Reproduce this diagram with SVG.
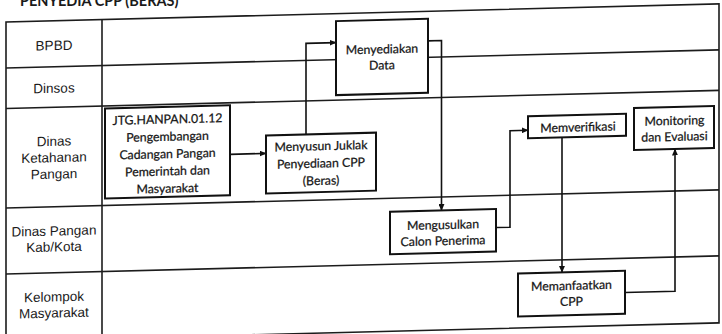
<svg xmlns="http://www.w3.org/2000/svg" width="722" height="334" viewBox="0 0 722 334">
<defs>
<style>
.grid{fill:none;stroke:#1c1c1c;stroke-width:1.6}
.box{fill:#fff;stroke:#111;stroke-width:2}
.lbl{font-family:"Liberation Sans",Arial,sans-serif;font-size:13.5px;fill:#1a1a1a;text-anchor:middle}
.bt{font-family:Lato,"Noto Sans",sans-serif;font-size:12.3px;fill:#161616;stroke:#161616;stroke-width:0.25;text-anchor:middle}
.con{fill:none;stroke:#111;stroke-width:1.6}
.title{font-family:Lato,"Noto Sans",sans-serif;font-size:14.5px;font-weight:bold;fill:#1a1a1a}
</style>
<marker id="ah" markerWidth="7" markerHeight="6" refX="6.5" refY="3" orient="auto" markerUnits="userSpaceOnUse">
<path d="M0,0 L7,3 L0,6 Z" fill="#111"/>
</marker>
</defs>
<rect width="722" height="334" fill="#fff"/>
<text class="title" x="20" y="5.5">PENYEDIA CPP (BERAS)</text>
<g transform="matrix(1 -0.0255 0 1 0 9.2)">
<g id="table">
<rect class="grid" x="6" y="13" width="713" height="319"/>
<line class="grid" x1="102" y1="13" x2="102" y2="332"/>
<line class="grid" x1="6" y1="59" x2="719" y2="59"/>
<line class="grid" x1="6" y1="99.5" x2="719" y2="99.5"/>
<line class="grid" x1="6" y1="199" x2="719" y2="199"/>
<line class="grid" x1="6" y1="265" x2="719" y2="265"/>
<text class="lbl" x="54" y="42.3">BPBD</text>
<text class="lbl" x="54" y="85">Dinsos</text>
<text class="lbl" x="54" y="138">Dinas</text>
<text class="lbl" x="54" y="154.3">Ketahanan</text>
<text class="lbl" x="54" y="170.8">Pangan</text>
<text class="lbl" x="54" y="227.7">Dinas Pangan</text>
<text class="lbl" x="54" y="243.7">Kab/Kota</text>
<text class="lbl" x="54" y="293.7">Kelompok</text>
<text class="lbl" x="54" y="309.7">Masyarakat</text>
</g>
<g id="connectors">
<path class="con" d="M230,151 H266" marker-end="url(#ah)"/>
<path class="con" d="M306,133 V42 H336" marker-end="url(#ah)"/>
<path class="con" d="M428,42.6 H441.5 V212.5" marker-end="url(#ah)"/>
<path class="con" d="M496,231 H510 V134.5 H528" marker-end="url(#ah)"/>
<path class="con" d="M562,142.5 V277.5" marker-end="url(#ah)"/>
<path class="con" d="M625,299.3 H675 V157" marker-end="url(#ah)"/>
</g>
<g id="jtg">
<rect class="box" x="105" y="102" width="125" height="90"/>
<text class="bt" x="167.5" y="118.6">JTG.HANPAN.01.12</text>
<text class="bt" x="167.5" y="135.9">Pengembangan</text>
<text class="bt" x="167.5" y="153.2">Cadangan Pangan</text>
<text class="bt" x="167.5" y="170.5">Pemerintah dan</text>
<text class="bt" x="167.5" y="187.8">Masyarakat</text>
</g>
<g id="menyusun">
<rect class="box" x="266" y="133" width="110" height="58"/>
<text class="bt" x="321" y="149.2">Menyusun Juklak</text>
<text class="bt" x="321" y="166.5">Penyediaan CPP</text>
<text class="bt" x="321" y="183.9">(Beras)</text>
</g>
<g id="menyediakan">
<rect class="box" x="336" y="20.5" width="92" height="74"/>
<text class="bt" x="382" y="54">Menyediakan</text>
<text class="bt" x="382" y="70">Data</text>
</g>
<g id="mengusulkan">
<rect class="box" x="390" y="212.5" width="106" height="42.5"/>
<text class="bt" x="443" y="231.2">Mengusulkan</text>
<text class="bt" x="443" y="247.2">Calon Penerima</text>
</g>
<g id="memverifikasi">
<rect class="box" x="528" y="120.5" width="98" height="22"/>
<text class="bt" x="578" y="137">Memverifikasi</text>
</g>
<g id="memanfaatkan">
<rect class="box" x="518" y="277.5" width="107" height="43"/>
<text class="bt" x="571.5" y="295.2">Memanfaatkan</text>
<text class="bt" x="571.5" y="311.2">CPP</text>
</g>
<g id="monitoring">
<rect class="box" x="634" y="115" width="80" height="42"/>
<text class="bt" x="674.5" y="132.9">Monitoring</text>
<text class="bt" x="674.5" y="148.9">dan Evaluasi</text>
</g>
</g>
</svg>
